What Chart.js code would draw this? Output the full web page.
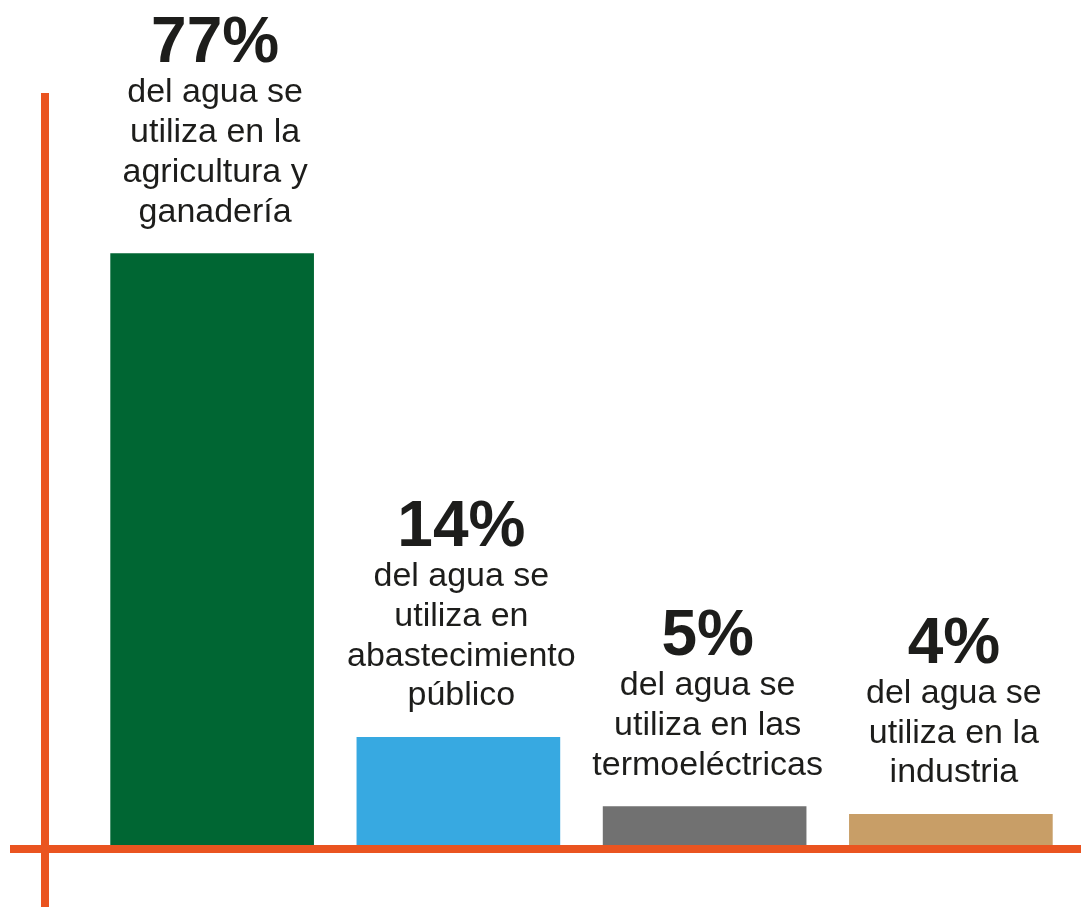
<!DOCTYPE html>
<html>
<head>
<meta charset="utf-8">
<script src="https://cdn.jsdelivr.net/npm/chart.js@4/dist/chart.umd.min.js"></script>
<style>
  html, body { margin: 0; padding: 0; background: #ffffff; }
  #chartDiv { width: 1082px; height: 907px; }
</style>
</head>
<body>
<div id="chartDiv"><canvas id="usoAgua" width="1082" height="907"></canvas></div>
<script>
const categories = [
    "agricultura y ganadería",
    "abastecimiento público",
    "termoeléctricas",
    "industria",
];

const percentages = [77, 14, 5, 4];

const descriptions = [
    ["del agua se", "utiliza en la", "agricultura y", "ganadería"],
    ["del agua se", "utiliza en", "abastecimiento", "público"],
    ["del agua se", "utiliza en las", "termoeléctricas"],
    ["del agua se", "utiliza en la", "industria"],
];

const barColors = ["#006633", "#37A9E1", "#717171", "#C89E67"];
const axisColor = "#EA5420";
const textColor = "#1d1d1b";
const fontFamily = 'Helvetica, "Liberation Sans", Arial, sans-serif';

// orange cross-shaped axes, drawn under the bars
const crossAxes = {
    id: "crossAxes",
    beforeDatasetsDraw: (chart) => {
        const ctx = chart.ctx;
        const yBase = chart.scales.y.getPixelForValue(0);
        ctx.save();
        ctx.fillStyle = axisColor;
        ctx.fillRect(41, 93, 8, chart.height - 93);
        ctx.fillRect(10, yBase, chart.width - 11, 8);
        ctx.restore();
    },
};

// percentage + description above each bar
const barTexts = {
    id: "barTexts",
    afterDatasetsDraw: (chart) => {
        const ctx = chart.ctx;
        const meta = chart.getDatasetMeta(0);
        ctx.save();
        ctx.textAlign = "center";
        ctx.textBaseline = "alphabetic";
        ctx.fillStyle = textColor;
        meta.data.forEach((bar, index) => {
            const lines = descriptions[index];
            const lastBase = bar.y - 32;
            const firstBase = lastBase - (lines.length - 1) * 39.7;
            ctx.font = "34px " + fontFamily;
            lines.forEach((line, i) => {
                ctx.fillText(line, bar.x + 3, firstBase + i * 39.7);
            });
            ctx.font = "bold 64px " + fontFamily;
            ctx.fillText(percentages[index] + "%", bar.x + 3, firstBase - 40);
        });
        ctx.restore();
    },
};

const ctx = document.getElementById("usoAgua").getContext("2d");

const myChart = new Chart(ctx, {
    type: "bar",
    data: {
        labels: categories,
        datasets: [
            {
                label: "Uso del agua",
                data: percentages,
                backgroundColor: barColors,
                borderWidth: 0,
                barThickness: 203,
            },
        ],
    },
    options: {
        responsive: false,
        animation: false,
        events: [],
        layout: {
            padding: { left: 89, right: 8, top: 0, bottom: 62 },
        },
        plugins: {
            legend: { display: false },
            tooltip: { enabled: false },
        },
        scales: {
            x: { display: false },
            y: { display: false, min: 0, max: 110 },
        },
    },
    plugins: [crossAxes, barTexts],
});
</script>
</body>
</html>
